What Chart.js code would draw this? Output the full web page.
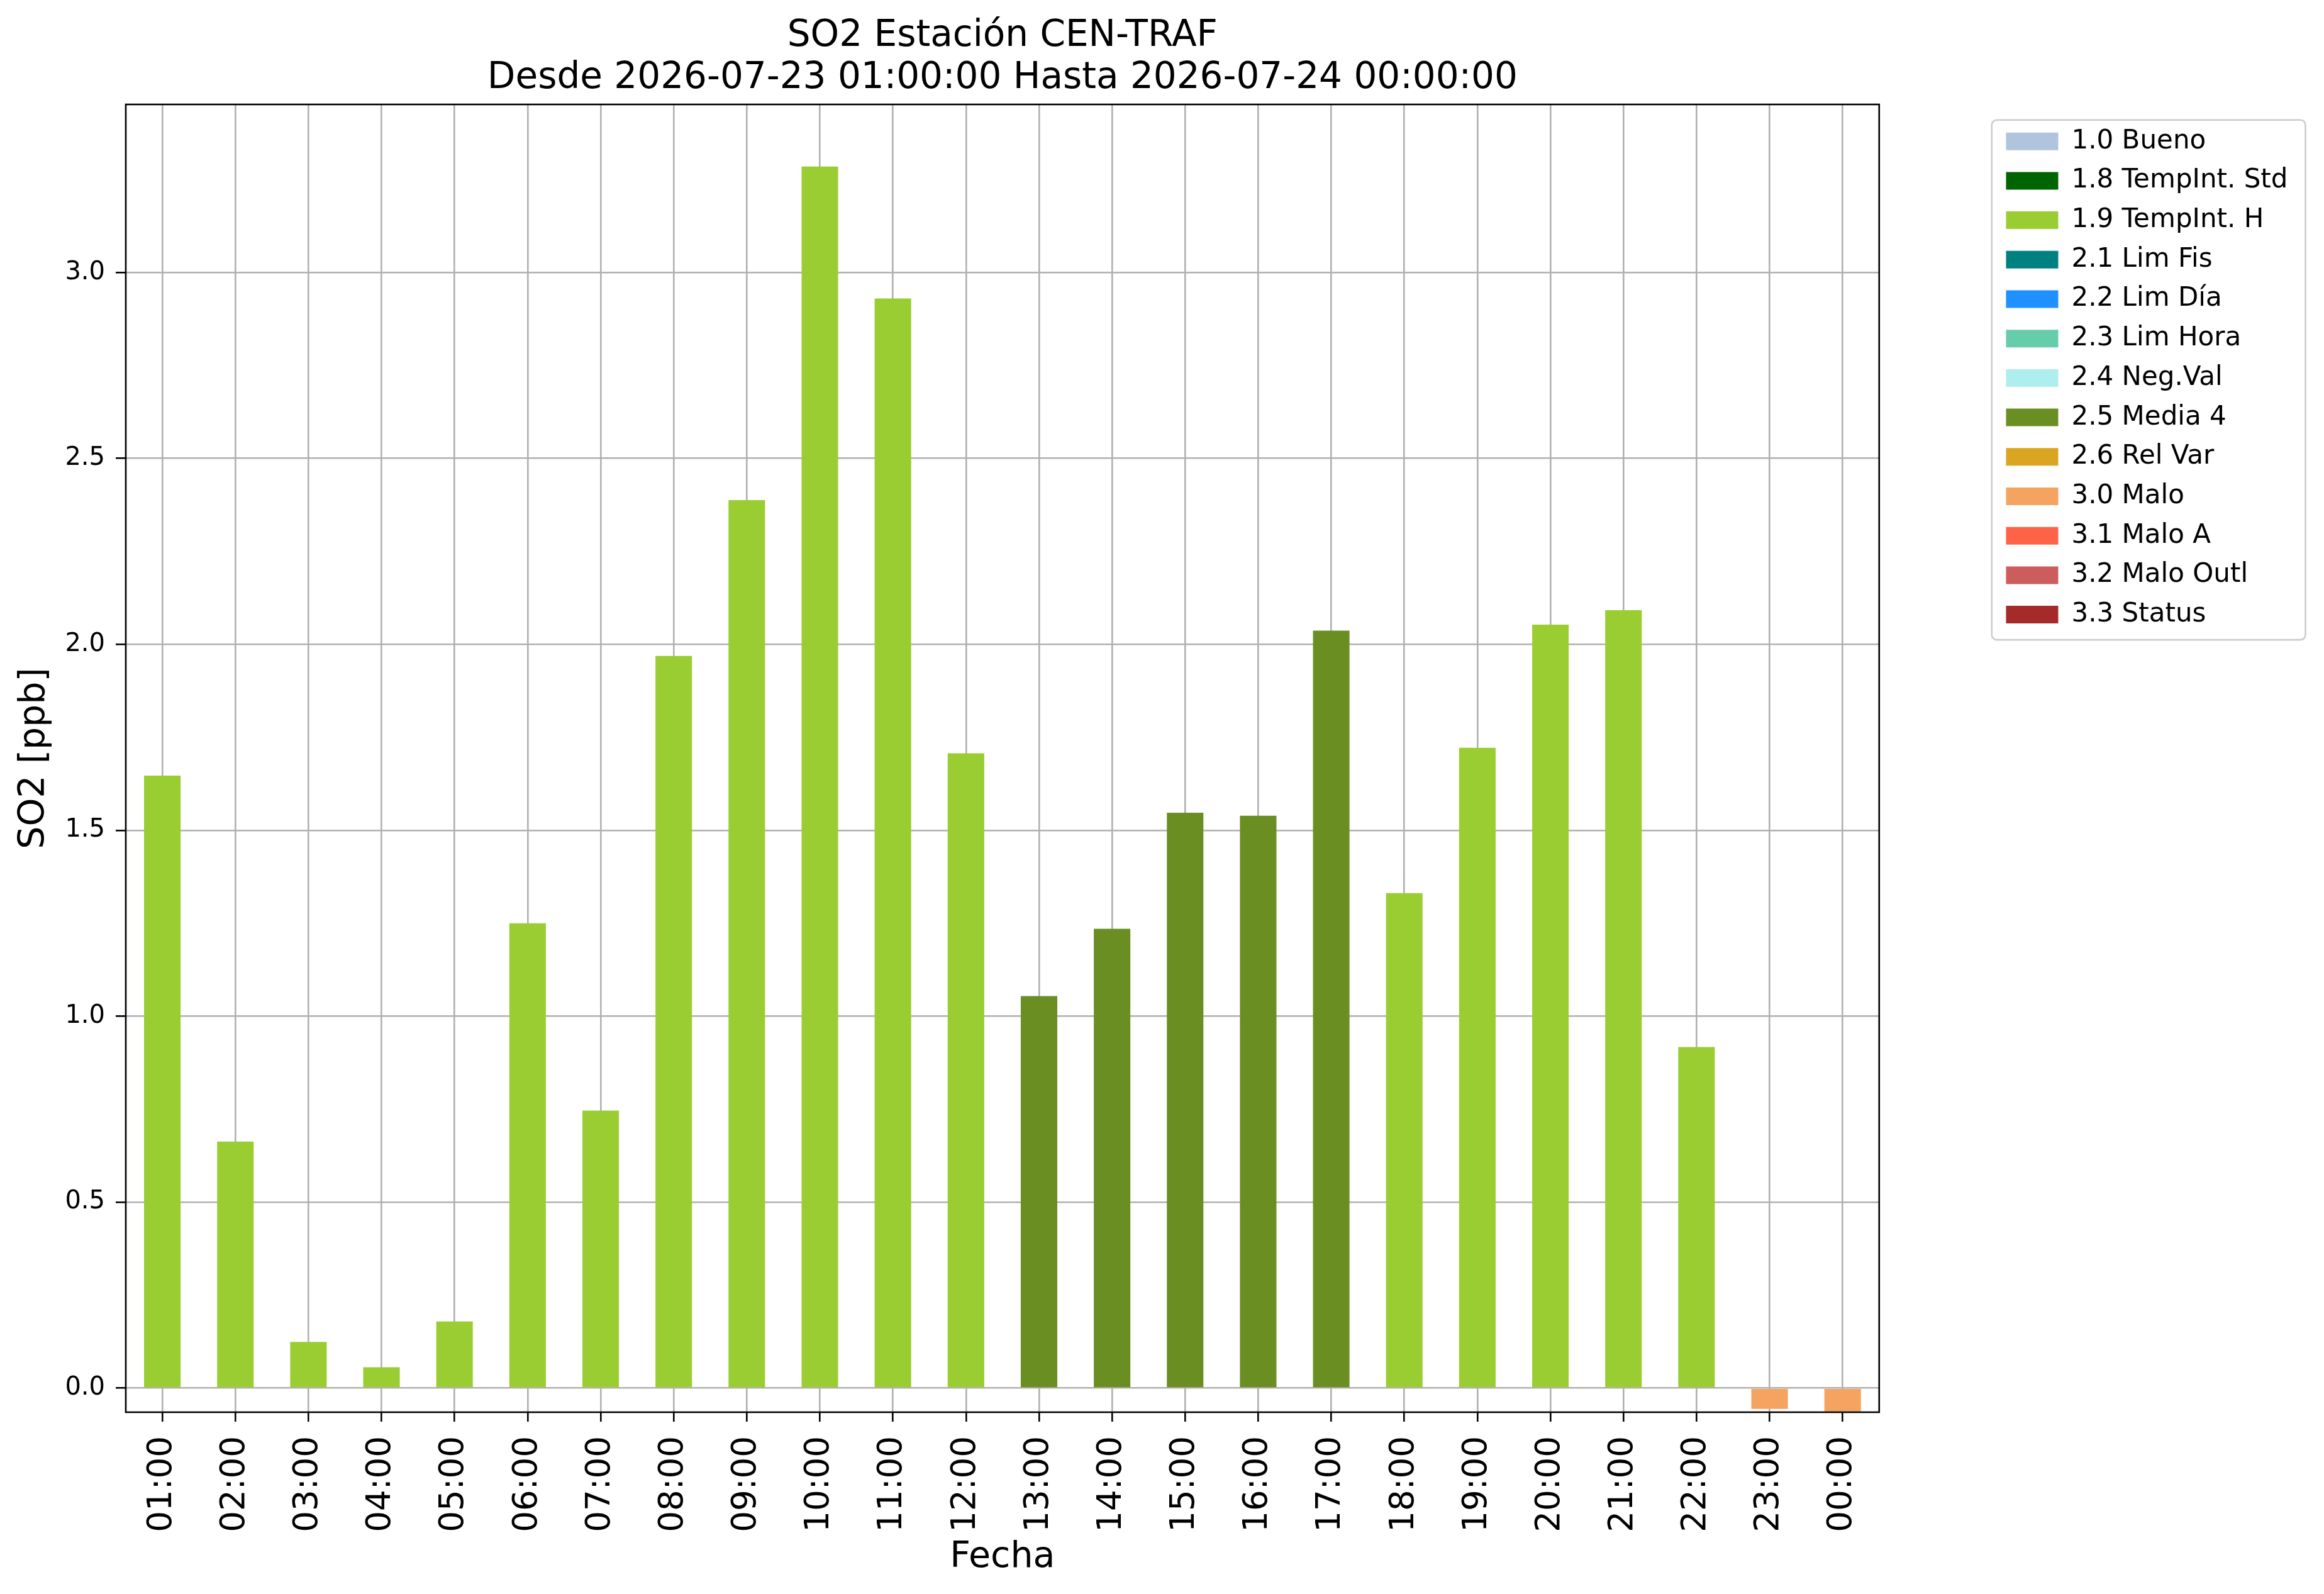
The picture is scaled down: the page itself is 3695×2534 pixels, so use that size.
<!DOCTYPE html>
<html>
<head>
<meta charset="utf-8">
<script src="https://cdn.jsdelivr.net/npm/chart.js@4.4.1/dist/chart.umd.min.js"></script>
<style>
  html, body { margin: 0; padding: 0; background: #fff; }
  canvas { display: block; }
</style>
</head>
<body>
<canvas id="so2Chart" width="3695" height="2534"></canvas>
<script>
// Hours on the x axis
var hours = ['01:00', '02:00', '03:00', '04:00', '05:00', '06:00', '07:00', '08:00',
             '09:00', '10:00', '11:00', '12:00', '13:00', '14:00', '15:00', '16:00',
             '17:00', '18:00', '19:00', '20:00', '21:00', '22:00', '23:00', '00:00'];

// SO2 hourly values (ppb)
var so2Values = [1.647, 0.663, 0.124, 0.056, 0.179, 1.250, 0.746, 1.969,
                 2.388, 3.285, 2.930, 1.707, 1.054, 1.235, 1.547, 1.539,
                 2.037, 1.331, 1.722, 2.053, 2.092, 0.917, -0.056, -0.063];

// Validation flag of each hour
var hourFlags = ['1.9', '1.9', '1.9', '1.9', '1.9', '1.9', '1.9', '1.9',
                 '1.9', '1.9', '1.9', '1.9', '2.5', '2.5', '2.5', '2.5',
                 '2.5', '1.9', '1.9', '1.9', '1.9', '1.9', '3.0', '3.0'];

// Flags in legend order
var flagCodes = ['1.0', '1.8', '1.9', '2.1', '2.2', '2.3', '2.4', '2.5', '2.6', '3.0', '3.1', '3.2', '3.3'];
var flagNames = ['Bueno', 'TempInt. Std', 'TempInt. H', 'Lim Fis', 'Lim Día', 'Lim Hora',
                 'Neg.Val', 'Media 4', 'Rel Var', 'Malo', 'Malo A', 'Malo Outl', 'Status'];
var flagColors = ['#b0c4de', '#006400', '#9acd32', '#008080', '#1e90ff', '#66cdaa',
                  '#afeeee', '#6b8e23', '#daa520', '#f4a460', '#ff6347', '#cd5c5c', '#a52a2a'];

var yTicks = [0, 0.5, 1.0, 1.5, 2.0, 2.5, 3.0];

// one dataset per flag, only holding the hours that carry that flag
var datasets = flagCodes.map(function(code, k) {
    return {
        label: code + ' ' + flagNames[k],
        data: so2Values.map(function(v, i) { return hourFlags[i] === code ? v : null; }),
        backgroundColor: flagColors[k],
        borderWidth: 0,
        barPercentage: 0.5,
        categoryPercentage: 1.0
    };
});

// box around the axes and rounded frame around the legend
var framePlugin = {
    id: 'frames',
    afterDraw: function(chart) {
        var ctx = chart.ctx;
        var a = chart.chartArea;
        var lg = chart.legend;
        ctx.save();
        ctx.strokeStyle = '#000';
        ctx.lineWidth = 2.6;
        ctx.strokeRect(a.left, a.top, a.right - a.left, a.bottom - a.top);

        var hb = lg.legendHitBoxes;
        var first = hb[0], last = hb[hb.length - 1];
        var x0 = lg.left - 2, x1 = lg.right + 18;
        var y0 = first.top - 13, y1 = last.top + last.height + 19;
        ctx.beginPath();
        ctx.roundRect(x0, y0, x1 - x0, y1 - y0, 8);
        ctx.strokeStyle = '#cccccc';
        ctx.lineWidth = 2.6;
        ctx.stroke();
        ctx.restore();
    }
};

Chart.defaults.font.family = "'DejaVu Sans', sans-serif";
Chart.defaults.color = '#000';

var ctx = document.getElementById('so2Chart').getContext('2d');
var so2Chart = new Chart(ctx, {
    type: 'bar',
    data: {
        labels: hours,
        datasets: datasets
    },
    options: {
        responsive: false,
        devicePixelRatio: 1,
        animation: false,
        layout: {
            padding: { left: 0, right: 47.5, top: 0, bottom: 0 }
        },
        plugins: {
            title: {
                display: true,
                fullSize: false,
                text: ['SO2 Estación CEN-TRAF', 'Desde 2026-07-23 01:00:00 Hasta 2026-07-24 00:00:00'],
                color: '#000',
                font: { size: 58, weight: 'normal', lineHeight: 1.15 },
                padding: { top: 25, bottom: 7.6 }
            },
            legend: {
                position: 'right',
                align: 'start',
                fullSize: false,
                title: {
                    display: true,
                    text: ' ',
                    font: { size: 1 },
                    padding: { top: 0, bottom: 15.8 }
                },
                labels: {
                    boxWidth: 83,
                    boxHeight: 28,
                    padding: 20.7,
                    color: '#000',
                    font: { size: 42 }
                }
            },
            tooltip: { enabled: false }
        },
        scales: {
            x: {
                stacked: true,
                offset: true,
                z: 1,
                grid: {
                    offset: false,
                    color: '#b0b0b0',
                    lineWidth: 2.6,
                    tickColor: '#000',
                    tickWidth: 2.6,
                    tickLength: 15
                },
                border: { display: false },
                ticks: {
                    autoSkip: false,
                    minRotation: 90,
                    maxRotation: 90,
                    padding: 23,
                    color: '#000',
                    font: { size: 53 }
                },
                title: {
                    display: true,
                    text: 'Fecha',
                    color: '#000',
                    font: { size: 57 },
                    padding: { top: 0, bottom: 24 }
                },
                afterFit: function(scale) { scale.height = 289; }
            },
            y: {
                min: -0.065,
                max: 3.452,
                z: 1,
                grid: {
                    color: '#b0b0b0',
                    lineWidth: 2.6,
                    tickColor: '#000',
                    tickWidth: 2.6,
                    tickLength: 16
                },
                border: { display: false },
                afterBuildTicks: function(scale) {
                    scale.ticks = yTicks.map(function(v) { return { value: v }; });
                },
                ticks: {
                    padding: 17,
                    color: '#000',
                    font: { size: 40 },
                    callback: function(value) { return value.toFixed(1); }
                },
                title: {
                    display: true,
                    text: 'SO2 [ppb]',
                    color: '#000',
                    font: { size: 57 },
                    padding: { top: 21, bottom: 0 }
                },
                afterFit: function(scale) { scale.width = 200; }
            },
            gap: {
                type: 'linear',
                position: 'right',
                grid: { display: false, drawTicks: false },
                border: { display: false },
                ticks: { display: false },
                afterFit: function(scale) { scale.width = 181; }
            }
        }
    },
    plugins: [framePlugin]
});
</script>
</body>
</html>
